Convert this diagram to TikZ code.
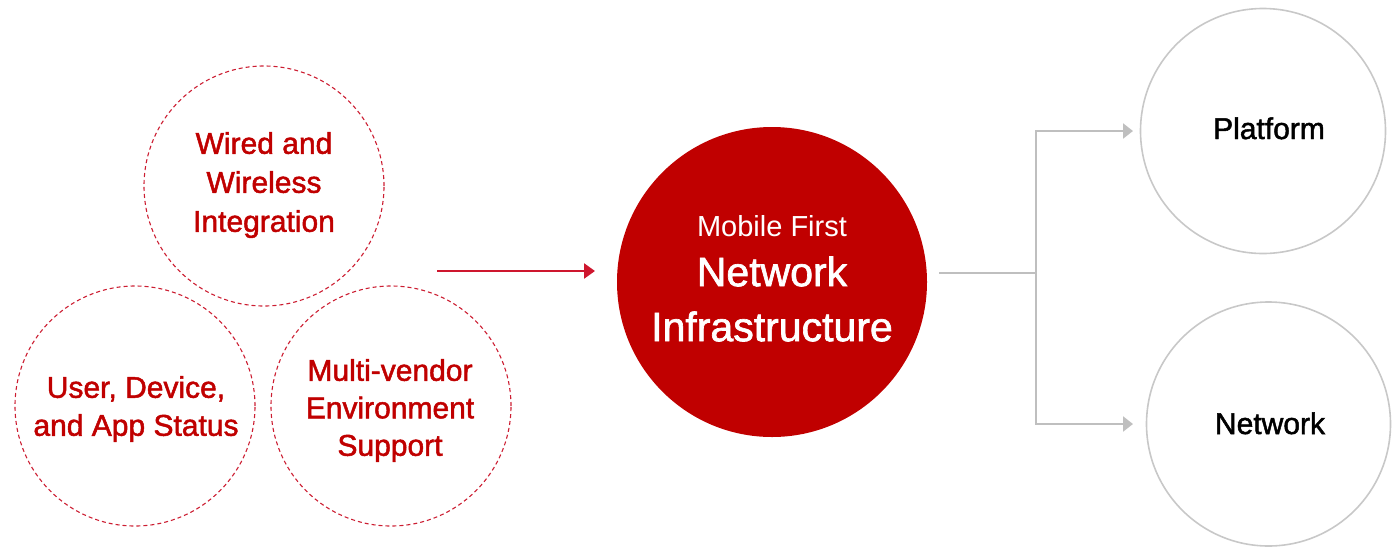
\documentclass[tikz,border=0pt]{standalone}
\usepackage{fontspec}
\setmainfont{Liberation Sans}
\newfontfamily\medfont{Liberation Sans}[FakeBold=1.6]
\usetikzlibrary{arrows.meta}
\definecolor{dashred}{RGB}{204,30,50}
\definecolor{txtred}{RGB}{192,0,0}
\definecolor{corered}{RGB}{192,0,0}
\definecolor{arrowred}{RGB}{206,22,46}
\definecolor{lgray}{RGB}{191,191,191}
\definecolor{cgray}{RGB}{200,200,200}
\begin{document}
\begin{tikzpicture}[x=1pt,y=-1pt,
  dcirc/.style={circle, draw=dashred, dash pattern=on 4pt off 3pt, line width=1.1pt, minimum size=240pt, inner sep=0pt},
  corecirc/.style={circle, fill=corered, draw=none, minimum size=310pt, inner sep=0pt},
  outcirc/.style={circle, draw=cgray, line width=1.6pt, minimum size=245pt, inner sep=0pt},
  dtext/.style={text=txtred, align=center, inner sep=0pt, font=\medfont\fontsize{30}{39}\selectfont},
  wtext/.style={text=white, align=center, inner sep=0pt},
  btext/.style={text=black, inner sep=0pt, anchor=base, font=\medfont\fontsize{30}{36}\selectfont},
  redarrow/.style={draw=arrowred, line width=2.5pt, -{Triangle[length=11pt,width=15pt]}},
  grayline/.style={draw=lgray, line width=2.3pt},
  grayarrow/.style={draw=lgray, line width=2.3pt, -{Triangle[length=10pt,width=15pt]}}
]
\useasboundingbox (0,0) rectangle (1400,547);

% dashed circles
\node[dcirc] (wired) at (264,186) {};
\node[dcirc] (user) at (135,406) {};
\node[dcirc] (multi) at (391,406) {};
\node[dtext] (wiredt) at (264,185) {Wired and\\Wireless\\Integration};
\node[dtext, font=\medfont\fontsize{30}{38}\selectfont] (usert) at (136,409) {User, Device,\\and App Status};
\node[dtext, font=\medfont\fontsize{30}{37.5}\selectfont] (multit) at (390,410.5) {Multi-vendor\\Environment\\Support};

% core circle
\node[corecirc] (core) at (772,282) {};
\node[wtext, anchor=base, font=\fontsize{29}{34}\selectfont] (coret1) at (772,236) {Mobile First};
\node[wtext, font=\medfont\fontsize{41}{55}\selectfont] (coret2) at (772,299) {Network\\Infrastructure};

% red arrow
\coordinate (rs) at (437,271);
\coordinate (re) at (595,271);
\draw[redarrow] (rs) -- (re);

% output circles
\node[outcirc] (plat) at (1263,131) {};
\node[outcirc, minimum size=244pt] (net) at (1268.5,424) {};
\node[btext] (platt) at (1269,139) {Platform};
\node[btext] (nett) at (1270,434) {Network};

% gray connector
\coordinate (gs) at (939,273);
\coordinate (gj) at (1036,273);
\coordinate (ga) at (1133,131);
\coordinate (gb) at (1133,424);
\draw[grayline] (gs) -- (gj);
\draw[grayarrow] (gj) |- (ga);
\draw[grayarrow] (gj) |- (gb);
\end{tikzpicture}
\end{document}
